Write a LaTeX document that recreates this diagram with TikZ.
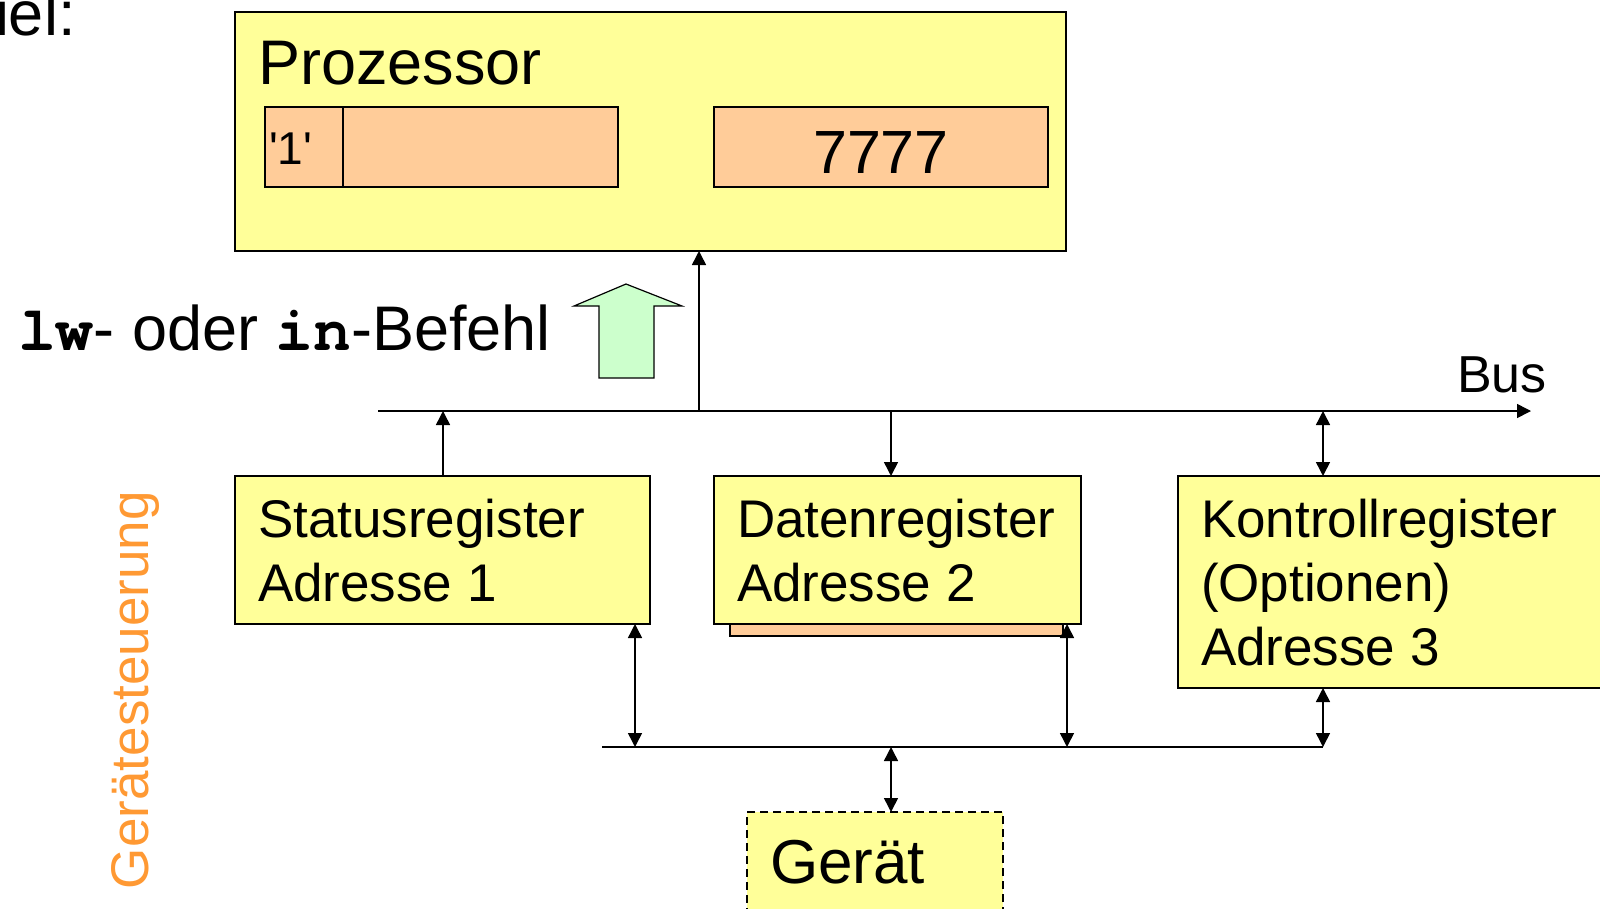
\documentclass[tikz,border=0pt]{standalone}
\usepackage{fontspec}
\setmainfont{Liberation Sans}
\newfontfamily\quotefont{Liberation Sans}
\newfontfamily\codefont{TeX Gyre Cursor}
\usetikzlibrary{arrows.meta}
\definecolor{boxyellow}{HTML}{FFFF99}
\definecolor{regorange}{HTML}{FFCC99}
\definecolor{upgreen}{HTML}{CCFFCC}
\definecolor{labelorange}{HTML}{FF9933}
\newcommand{\setfs}[1]{\fontsize{#1}{#1}\selectfont}
\begin{document}
\begin{tikzpicture}[x=1pt,y=-1pt,
  panel/.style={rectangle, draw=black, line width=1.6pt, fill=boxyellow,
    inner sep=0pt, outer sep=0pt, anchor=north west},
  regbox/.style={rectangle, draw=black, line width=1.6pt, fill=regorange,
    inner sep=0pt, outer sep=0pt, anchor=north west},
  txt/.style={anchor=base west, inner sep=0pt, outer sep=0pt},
  big/.style={font=\setfs{63}},
  mid/.style={font=\setfs{53}},
  wire/.style={line width=1.5pt},
  link/.style={wire, -{Triangle[length=14pt,width=14pt]}},
  dlink/.style={wire, {Triangle[length=14pt,width=14pt]}-{Triangle[length=14pt,width=14pt]}}
]
\clip (0,0) rectangle (1600,908);

% heading fragment at the top left
\node[txt, big] (head) at (-5,35) {iel:};

% processor with its two registers
\node[panel, minimum width=831pt, minimum height=239pt] (proc) at (235,12) {};
\node[txt, big] (procT) at (258,84) {Prozessor};
\node[regbox, minimum width=78pt, minimum height=80pt] (flag) at (265,107) {};
\node[regbox, minimum width=275pt, minimum height=80pt] (body) at (343,107) {};
\node[txt, font=\quotefont\setfs{46}] (flagT) at (269,164) {'1'};
\node[regbox, minimum width=334pt, minimum height=80pt] (reg2) at (714,107) {};
\node[anchor=base, inner sep=0pt, font=\setfs{61}] (regT) at (881,173) {7777};

% instruction label and the block arrow
\node[txt, big] (cmd) at (18,350)
  {{\codefont\bfseries lw}- oder {\codefont\bfseries in}-Befehl};
\draw[line width=1.2pt, fill=upgreen]
  (599,378) -- (599,306) -- (574,306) -- (626,284) -- (682,306)
  -- (654,306) -- (654,378) -- cycle;

% device controller registers
\node[panel, minimum width=415pt, minimum height=148pt] (stat) at (235,476) {};
\node[txt, mid] (statA) at (258,537) {Statusregister};
\node[txt, mid] (statB) at (258,601) {Adresse 1};

\node[regbox, minimum width=333pt, minimum height=36pt] (datenS) at (730,600) {};
\node[panel, minimum width=367pt, minimum height=148pt] (daten) at (714,476) {};
\node[txt, mid] (datenA) at (737,537) {Datenregister};
\node[txt, mid] (datenB) at (737,601) {Adresse 2};

\node[panel, minimum width=440pt, minimum height=212pt] (kontr) at (1178,476) {};
\node[txt, mid] (kontrA) at (1201,537) {Kontrollregister};
\node[txt, mid] (kontrB) at (1201,601) {(Optionen)};
\node[txt, mid] (kontrC) at (1201,665) {Adresse 3};

% device
\node[panel, dash pattern=on 8pt off 5pt, minimum width=256pt, minimum height=120pt] (geraet) at (747,812) {};
\node[txt, font=\setfs{62}] (geraetT) at (770,883) {Gerät};

% vertical side label
\node[txt, mid, rotate=90, text=labelorange] (ctrl) at (148,889) {Gerätesteuerung};

% system bus
\coordinate (busL) at (378,411);
\coordinate (busR) at (1531,411);
\draw[link] (busL) -- (busR);
\node[txt, font=\setfs{52}] (busT) at (1457,392) {Bus};

\coordinate (tapP) at (699,411);
\coordinate (tapS) at (443,411);
\coordinate (tapD) at (891,411);
\coordinate (tapK) at (1323,411);
\draw[link] (tapP) -- (tapP |- proc.south);
\draw[link] (tapS |- stat.north) -- (tapS);
\draw[link] (tapD) -- (tapD |- daten.north);
\draw[dlink] (tapK) -- (tapK |- kontr.north);

% internal bus towards the device
\coordinate (lbL) at (602,747);
\coordinate (lbR) at (1323,747);
\coordinate (lbS) at (635,747);
\coordinate (lbD) at (1067,747);
\coordinate (lbG) at (891,747);
\draw[wire] (lbL) -- (lbR);
\draw[dlink] (lbS |- stat.south) -- (lbS);
\draw[dlink] (lbD |- daten.south) -- (lbD);
\draw[dlink] (lbR |- kontr.south) -- (lbR);
\draw[dlink] (lbG) -- (lbG |- geraet.north);
\end{tikzpicture}
\end{document}
